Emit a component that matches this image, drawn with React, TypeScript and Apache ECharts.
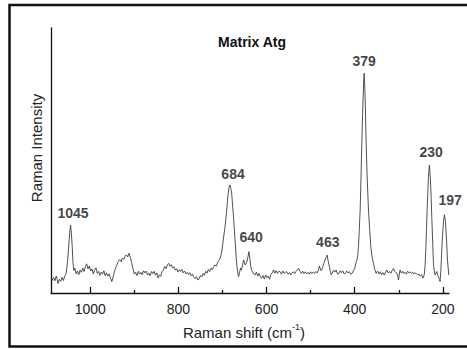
import React, { useEffect, useRef } from "react";
import * as echarts from "echarts";

const titleText = "Matrix Atg";
const xAxisTitle = "Raman shift (cm";
const xAxisSup = "-1";
const yAxisTitle = "Raman Intensity";

const xMin = 186;
const xMax = 1089;
const yMin = 0;
const yMax = 100;

const majorTicks = [200, 400, 600, 800, 1000];
const minorTicks = [300, 500, 700, 900];

// [wavenumber (cm-1), intensity (a.u.)]
const spectrum: [number, number][] = [
  [1089, 6.0], [1086, 4.8], [1083, 5.9], [1080, 4.6], [1077, 6.4], [1075, 5.1], [1073, 3.6], [1070, 5.2],
  [1067, 4.4], [1064, 5.9], [1061, 4.7], [1058, 6.3], [1055, 7.2], [1052, 11], [1050, 15], [1048, 19.5],
  [1046, 23.8], [1044.5, 25.6], [1043, 23], [1041, 18], [1039, 11.2], [1037, 8.5], [1035, 9.4], [1032, 7.2],
  [1029, 8.3], [1026, 6.9], [1023, 8.6], [1020, 7.8], [1017, 9.4], [1014, 8.1], [1011, 9.9], [1008, 11],
  [1005, 9.1], [1002, 10.2], [999, 8.3], [996, 9.1], [993, 7.2], [990, 8.6], [987, 9.5], [984, 7.4],
  [981, 8.2], [978, 6.6], [975, 7.9], [972, 7.1], [969, 8.4], [966, 6.5], [963, 7.6], [960, 6.4],
  [957, 7.2], [954, 5.6], [951, 4.3], [948, 6.1], [945, 8.2], [942, 9.6], [939, 10.8], [936, 11.9],
  [933, 12.6], [930, 11.8], [927, 13.2], [924, 12.7], [921, 13.9], [918, 14.4], [915, 13.6], [912, 15],
  [909, 13.5], [906, 11.4], [903, 9.2], [900, 7.1], [897, 7.8], [894, 6.6], [891, 8.2], [888, 7.1],
  [885, 7.8], [882, 6.9], [879, 8.4], [876, 7.6], [873, 8.3], [870, 6.8], [867, 7.5], [864, 6.5],
  [861, 8.1], [858, 7.3], [855, 8.2], [852, 6.7], [849, 7.6], [846, 5.6], [843, 6.9], [840, 6.3],
  [837, 8.1], [834, 8.7], [831, 10], [828, 9.2], [825, 10.6], [822, 11.2], [819, 10.1], [816, 10.7],
  [813, 9.4], [810, 9.9], [807, 8.6], [804, 9.2], [801, 7.9], [798, 8.8], [795, 8.1], [792, 8.9],
  [789, 7.6], [786, 8.3], [783, 7.2], [780, 7.8], [777, 6.9], [774, 7.7], [771, 6.5], [768, 7.1],
  [765, 5.9], [762, 5.4], [759, 6.2], [756, 4.9], [753, 5.3], [750, 6.6], [747, 6.1], [744, 7.4],
  [741, 6.7], [738, 8.2], [735, 7.5], [732, 8.9], [729, 8.1], [726, 9.4], [723, 8.8], [720, 9.9],
  [717, 10.6], [714, 10.1], [711, 11.5], [709, 12.2], [706, 12.8], [703, 14.5], [701, 16.2], [699, 19],
  [697, 21.5], [695, 24], [693.5, 26], [691, 30], [689, 34], [687, 37.5], [685, 40], [683, 40.8],
  [681, 39.5], [679, 37.6], [677, 33], [675, 29], [673.5, 25], [671, 19], [669, 13.7], [667, 10],
  [665, 7.4], [663.5, 6.2], [661, 7.9], [659, 9.4], [657, 8.6], [655, 10.2], [652, 12.5], [650, 11.4],
  [648.5, 10.6], [646, 11.2], [644.5, 11.8], [642, 13.8], [640, 15.6], [638, 13.2], [636, 10.4], [634, 8.7],
  [632, 8.1], [629, 7.2], [626, 6.8], [623, 7.9], [620, 6.4], [617, 7.4], [614, 6.1], [611, 5.5],
  [608, 6.6], [605, 5.3], [602, 6.8], [599, 5.8], [596, 6.4], [593, 5.2], [590, 7.1], [587, 7.6],
  [584, 8.7], [581, 7.5], [578, 8.4], [575, 7.4], [572, 8.2], [569, 8], [566, 7.1], [563, 8.3],
  [560, 7.4], [557, 7.9], [554, 8], [551, 7.1], [548, 7.7], [545, 6.8], [542, 7.6], [539, 8],
  [536, 7.3], [533, 8.2], [530, 8.7], [527, 9.3], [524, 8.1], [521, 7.4], [518, 8.2], [515, 7.3],
  [512, 8], [509, 7.2], [506, 7.8], [503, 7.1], [500, 8], [497, 7.3], [494, 7.9], [491, 7.4],
  [488, 8.1], [485, 7.6], [482, 8.7], [480, 10.2], [478, 9.1], [476, 8.4], [474, 9], [472, 10.1],
  [470, 11.2], [468, 12.1], [466, 13.1], [464, 13.7], [462.5, 14.3], [461, 12.8], [459, 11.2], [457, 9.6],
  [455, 8], [453, 6.8], [451, 7.5], [448, 8.6], [445, 7.9], [442, 8.7], [439, 7.1], [436, 7.4],
  [433, 8.4], [430, 7.6], [427, 8.4], [424, 7.2], [421, 7.4], [418, 8.3], [415, 7.6], [412, 8],
  [409, 7.1], [406, 7.4], [403, 8.4], [400, 9.3], [397, 11.5], [395, 12.4], [393, 14.2], [391.4, 17.5],
  [389.5, 24], [387.6, 31.3], [385.7, 43], [383.8, 56.5], [382.3, 66], [380.8, 74], [379.5, 80], [378.5, 82.9],
  [377.4, 79], [376.3, 74], [375.2, 66], [374, 56.5], [371.5, 43], [368.7, 31.3], [366, 24], [363.4, 17.5],
  [360.5, 13.6], [357.4, 11.2], [354.5, 8.9], [351.3, 7.4], [348, 8.3], [345, 7.2], [342, 8], [339, 6.9],
  [336, 7.7], [333, 6.8], [330, 7.9], [327, 8.7], [324, 7.6], [321, 8.1], [318, 7.4], [315, 8.5],
  [312, 9.3], [309, 8.1], [306, 7.6], [304, 7.4], [302, 6.2], [300.7, 4.9], [299, 6.6], [297, 8.7],
  [294, 7.5], [291, 8.2], [289, 7.4], [286, 7.8], [283, 7.1], [280, 8.2], [277, 7.6], [274, 8],
  [271, 7.3], [268, 7.8], [266, 7.2], [263, 7.6], [260, 7.3], [257, 6.9], [254, 7.1], [251.5, 6.4],
  [248, 6.9], [245.5, 5.6], [243, 6.4], [241.7, 7.5], [240, 11], [238.7, 16.3], [237, 24], [235.6, 31.4],
  [234, 38], [232.6, 44], [230.4, 48.3], [228.1, 42.7], [226.5, 36], [225.1, 28.8], [223, 19], [221.3, 11.2],
  [219.5, 8.4], [217.5, 6.8], [215.5, 7.5], [213.7, 8.1], [212, 7], [210, 6.2], [208, 5.1], [206.2, 4.3],
  [204.5, 8.5], [202.4, 16.3], [200.9, 21], [199.4, 25], [197.8, 28], [196.3, 29.5], [194.1, 27], [191.8, 20.7],
  [189.5, 12.5], [186.5, 6.8],
];

// peak annotations: text and where its label sits (data coordinates)
const peakNames = ["1045", "684", "640", "463", "379", "230", "197"];
const peakLabelX = [1039, 676, 635, 461, 378.5, 226.5, 183.5];
const peakLabelY = [30.3, 44.9, 21.1, 19.2, 87.5, 53.2, 35.1];

const FONT = "'Liberation Sans', Arial, Helvetica, sans-serif";

export default function App() {
  const ref = useRef<HTMLDivElement>(null);
  useEffect(() => {
    if (!ref.current) return;
    const chart = echarts.init(ref.current, undefined, { renderer: "svg" });
    const labelData = peakNames.map((n, i) => ({ name: n, value: [peakLabelX[i], peakLabelY[i]] }));
    chart.setOption({
      animation: false,
      backgroundColor: "#ffffff",
      textStyle: { fontFamily: FONT },
      grid: { left: 51, right: 18, top: 28, bottom: 56, containLabel: false },
      xAxis: [
        {
          type: "value",
          min: xMin,
          max: xMax,
          inverse: true,
          position: "bottom",
          axisLine: { show: true, lineStyle: { color: "#111", width: 1.3 } },
          axisTick: { show: true, inside: true, length: 6, customValues: majorTicks, lineStyle: { color: "#111", width: 1.3 } },
          axisLabel: {
            show: true,
            customValues: majorTicks,
            formatter: (v: number) => String(v),
            fontSize: 14,
            color: "#222",
            margin: 9,
            fontFamily: FONT,
          },
          splitLine: { show: false },
        },
        {
          type: "value",
          min: xMin,
          max: xMax,
          inverse: true,
          position: "bottom",
          axisLine: { show: false },
          axisTick: { show: true, inside: true, length: 3, customValues: minorTicks, lineStyle: { color: "#111", width: 1.3 } },
          axisLabel: { show: false },
          splitLine: { show: false },
        },
      ],
      yAxis: {
        type: "value",
        min: yMin,
        max: yMax,
        axisLine: { show: true, lineStyle: { color: "#111", width: 1.3 } },
        axisTick: { show: false },
        axisLabel: { show: false },
        splitLine: { show: false },
      },
      series: [
        {
          type: "line",
          data: spectrum,
          showSymbol: false,
          symbol: "none",
          lineStyle: { color: "#3c3c3c", width: 0.9 },
          xAxisIndex: 0,
          z: 3,
        },
        {
          type: "scatter",
          data: labelData,
          symbolSize: 0,
          clip: false,
          xAxisIndex: 0,
          label: {
            show: true,
            position: "inside",
            formatter: "{b}",
            fontSize: 14,
            fontWeight: "bold",
            color: "#111",
            fontFamily: FONT,
          },
          z: 4,
        },
      ],
      graphic: [
        {
          type: "rect",
          shape: { x: 9.5, y: 5, width: 480, height: 341.5 },
          style: { fill: "none", stroke: "#111", lineWidth: 2.5 },
          silent: true,
        },
        {
          type: "text",
          x: 252,
          y: 42,
          style: {
            text: titleText,
            fontSize: 14,
            fontWeight: "bold",
            fill: "#111",
            fontFamily: FONT,
            align: "center",
            verticalAlign: "middle",
          },
        },
        {
          type: "text",
          x: 36,
          y: 148,
          rotation: Math.PI / 2,
          style: {
            text: yAxisTitle,
            fontSize: 15,
            fill: "#222",
            fontFamily: FONT,
            align: "center",
            verticalAlign: "middle",
          },
        },
        {
          type: "text",
          x: 244,
          y: 331,
          style: {
            text: "{n|" + xAxisTitle + "}{s|" + xAxisSup + "}{n|)}",
            fontFamily: FONT,
            align: "center",
            verticalAlign: "middle",
            rich: {
              n: { fontSize: 15, fill: "#222", fontFamily: FONT, lineHeight: 18, verticalAlign: "bottom" },
              s: { fontSize: 9, fill: "#222", fontFamily: FONT, lineHeight: 18, verticalAlign: "top", padding: [0, 0, 8, 0] },
            },
          },
        },
      ],
    });
    return () => chart.dispose();
  }, []);
  return (
    <div
      ref={ref}
      style={{ position: "fixed", left: 0, top: 0, width: 467, height: 349 }}
    />
  );
}
